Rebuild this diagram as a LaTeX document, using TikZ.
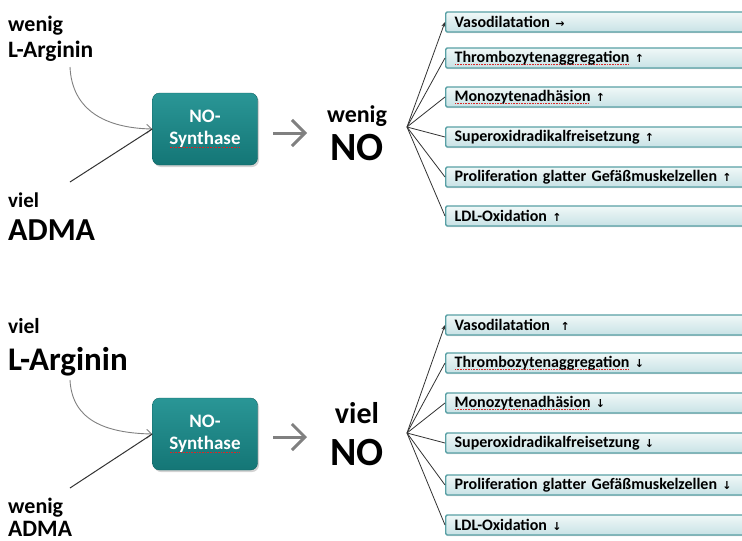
\documentclass[tikz,border=0pt]{standalone}
\usepackage{fontspec}
\setmainfont{Carlito}
\newfontfamily\arrfont{DejaVu Sans}
\usetikzlibrary{arrows.meta,shadows}
\definecolor{tealtop}{RGB}{42,150,150}
\definecolor{tealbot}{RGB}{20,118,118}
\definecolor{boxtop}{RGB}{240,248,248}
\definecolor{boxbot}{RGB}{200,226,229}
\definecolor{boxline}{RGB}{88,160,165}
\definecolor{lblgrey}{RGB}{128,128,128}
\definecolor{linedark}{RGB}{50,50,50}
\definecolor{spellred}{RGB}{215,40,40}
\newcommand{\upa}{{\arrfont\fontsize{11}{11}\selectfont ↑}}
\newcommand{\dna}{{\arrfont\fontsize{11}{11}\selectfont ↓}}
\newcommand{\ria}{{\arrfont\fontsize{11}{11}\selectfont →}}
\newcommand{\spellmark}[1]{\setbox0\hbox{#1}\rlap{\raisebox{-3pt}{\textcolor{spellred}{\leaders\hbox to 1.6pt{\hss\rule{0.8pt}{0.8pt}\hss}\hskip\wd0}}}#1}
\begin{document}
\begin{tikzpicture}[x=1pt,y=-1pt,
  lbl/.style={font=\bfseries, inner sep=0pt, anchor=base west},
  synth/.style={rectangle, rounded corners=7pt, top color=tealtop, bottom color=tealbot,
    draw=tealbot!85!black, line width=0.4pt, minimum width=105pt, minimum height=72pt,
    text=white, font=\bfseries\fontsize{19}{22}\selectfont, align=center,
    drop shadow={opacity=0.35, shadow xshift=1.5pt, shadow yshift=-2pt}},
  effbox/.style={rectangle, rounded corners=1.5pt, top color=boxtop, bottom color=boxbot,
    draw=boxline, line width=1.3pt, anchor=west, minimum height=20pt, text width=300pt,
    inner xsep=9pt, inner ysep=0pt, align=left, font=\bfseries\fontsize{16}{17}\selectfont,
    drop shadow={opacity=0.3, shadow xshift=0.5pt, shadow yshift=-1.2pt}},
  fan/.style={draw=linedark, line width=0.8pt},
  bigarrow/.style={draw=lblgrey, line width=3pt, -{Straight Barb[length=13pt,width=26pt,line width=3pt]}},
  curvearrow/.style={draw=lblgrey, line width=0.9pt, -{Straight Barb[length=5pt,width=9pt]}},
  admaline/.style={draw=linedark, line width=1pt},
]
\useasboundingbox (0,0) rectangle (742,541);

% ===== top half =====
\node[lbl, font=\bfseries\fontsize{22}{24}\selectfont] (t1) at (8,31) {wenig};
\node[lbl, font=\bfseries\fontsize{23.5}{25}\selectfont] (t2) at (8,57) {L-Arginin};
\node[lbl, font=\bfseries\fontsize{21}{23}\selectfont] (t3) at (8,207) {viel};
\node[lbl, font=\bfseries\fontsize{32}{34}\selectfont] (t4) at (8,240) {ADMA};
\node[synth] (s1) at (205,129) {NO-\\\spellmark{Synthase}};
\coordinate (c1) at (70,67);
\coordinate (c2) at (70,182);
\draw[curvearrow] (c1) .. controls (72,110) and (105,128) .. (s1.west);
\draw[admaline] (c2) -- (s1.west);
\node[inner sep=0pt, font=\bfseries\fontsize{24}{26}\selectfont, anchor=base] (n1) at (357,122) {wenig};
\node[inner sep=0pt, font=\bfseries\fontsize{40}{42}\selectfont, anchor=base] (n2) at (357,160) {NO};
\coordinate (a1s) at (273,133);
\coordinate (a1e) at (307,133);
\draw[bigarrow] (a1s) -- (a1e);
\coordinate (f1) at (407,127);
\node[effbox] (b11) at (445,22) {Vasodilatation \ria};
\node[effbox] (b12) at (445,58) {\spellmark{Thrombozytenaggregation} \upa};
\node[effbox] (b13) at (445,97) {\spellmark{Monozytenadhäsion} \upa};
\node[effbox] (b14) at (445,137) {Superoxidradikalfreisetzung \upa};
\node[effbox] (b15) at (445,177) {Proliferation glatter Gefäßmuskelzellen \upa};
\node[effbox] (b16) at (445,216) {LDL-Oxidation \upa};
\draw[fan, -{Stealth[length=5pt,width=4pt]}] (f1) -- (b11.west);
\foreach \b in {b12,b13,b14,b15,b16} \draw[fan] (f1) -- (\b.west);

% ===== bottom half =====
\node[lbl, font=\bfseries\fontsize{21.5}{23}\selectfont] (u1) at (8,333) {viel};
\node[lbl, font=\bfseries\fontsize{33}{35}\selectfont] (u2) at (8,370) {L-Arginin};
\node[lbl, font=\bfseries\fontsize{22}{24}\selectfont] (u3) at (8,513) {wenig};
\node[lbl, font=\bfseries\fontsize{23.5}{25}\selectfont] (u4) at (8,536) {ADMA};
\node[synth] (s2) at (205,434) {NO-\\\spellmark{Synthase}};
\coordinate (d1) at (70,380);
\coordinate (d2) at (70,488);
\draw[curvearrow] (d1) .. controls (72,420) and (105,433) .. (s2.west);
\draw[admaline] (d2) -- (s2.west);
\node[inner sep=0pt, font=\bfseries\fontsize{30}{32}\selectfont, anchor=base] (m1) at (357,423) {viel};
\node[inner sep=0pt, font=\bfseries\fontsize{40}{42}\selectfont, anchor=base] (m2) at (357,465) {NO};
\coordinate (a2s) at (273,437);
\coordinate (a2e) at (307,437);
\draw[bigarrow] (a2s) -- (a2e);
\coordinate (f2) at (407,433);
\node[effbox] (b21) at (445,325) {Vasodilatation \ \upa};
\node[effbox] (b22) at (445,363) {\spellmark{Thrombozytenaggregation} \dna};
\node[effbox] (b23) at (445,403) {\spellmark{Monozytenadhäsion} \dna};
\node[effbox] (b24) at (445,443) {Superoxidradikalfreisetzung \dna};
\node[effbox] (b25) at (445,485) {Proliferation glatter Gefäßmuskelzellen \dna};
\node[effbox] (b26) at (445,525) {LDL-Oxidation \dna};
\draw[fan, -{Stealth[length=5pt,width=4pt]}] (f2) -- (b21.west);
\foreach \b in {b22,b23,b24,b25,b26} \draw[fan] (f2) -- (\b.west);
\end{tikzpicture}
\end{document}
